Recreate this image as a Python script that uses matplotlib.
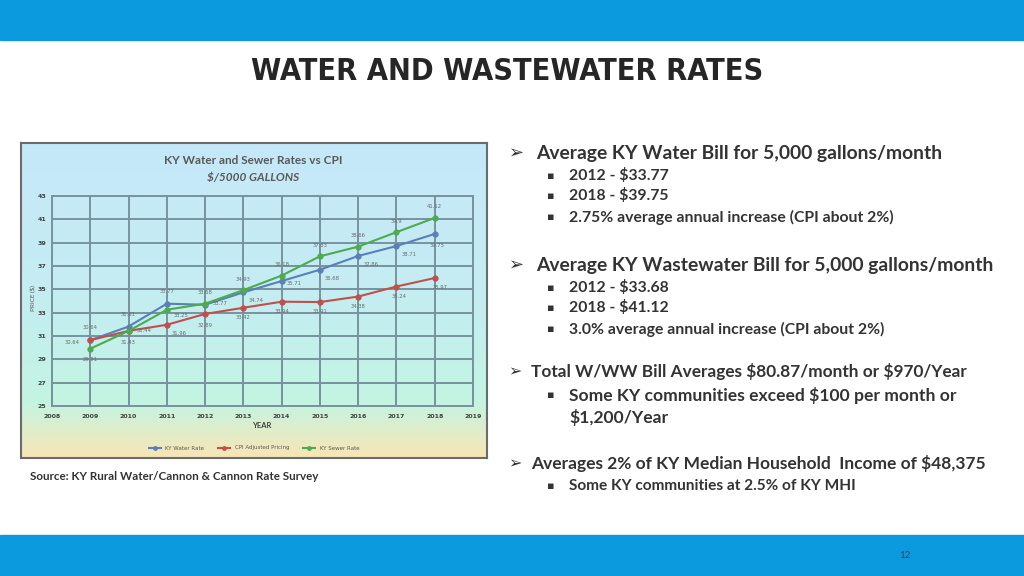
import numpy as np
import matplotlib
matplotlib.use("Agg")
from matplotlib import pyplot as plt
from matplotlib.colors import LinearSegmentedColormap
from matplotlib.patches import Rectangle

years = [2009, 2010, 2011, 2012, 2013, 2014, 2015, 2016, 2017, 2018]
water = [30.64, 31.81, 33.77, 33.68, 34.74, 35.71, 36.68, 37.86, 38.71, 39.75]
cpi = [30.64, 31.44, 31.96, 32.89, 33.42, 33.94, 33.91, 34.38, 35.24, 35.97]
sewer = [29.91, 31.43, 33.25, 33.77, 34.93, 36.18, 37.83, 38.66, 39.9, 41.12]
series_names = ['KY Water Rate', 'CPI Adjusted Pricing', 'KY Sewer Rate']
year_ticks = list(range(2008, 2020))
price_ticks = list(range(25, 44, 2))

W, H = 1024, 576
fig = plt.figure(figsize=(W / 100, H / 100), dpi=100)
fig.patch.set_facecolor('white')

def box(x0, y0, x1, y1):
    # pixel box (top-left origin) -> figure rect
    return [x0 / W, 1 - y1 / H, (x1 - x0) / W, (y1 - y0) / H]

def fx(x):
    return x / W

def fy(y):
    return 1 - y / H

# slide bars
fig.patches.append(Rectangle((0, fy(40)), 1, 40 / H, transform=fig.transFigure,
                             color='#0c9ade', zorder=0))
fig.patches.append(Rectangle((0, 0), 1, (H - 535) / H, transform=fig.transFigure,
                             color='#0c9ade', zorder=0))

body_font = ['Lato', 'DejaVu Sans']

fig.text(fx(507), fy(71), 'WATER AND WASTEWATER RATES', family=['DejaVu Sans'],
         fontstretch='condensed', fontsize=22, fontweight='bold', color='#262626',
         ha='center', va='center')

# chart picture background
bg = fig.add_axes(box(21, 143, 487, 458))
grad = LinearSegmentedColormap.from_list(
    'bg', [(0, '#c6e8fa'), (0.55, '#c4eef0'), (0.82, '#c3f5e2'), (1.0, '#f8e6b5')])
bg.imshow(np.linspace(0, 1, 256).reshape(-1, 1), cmap=grad, aspect='auto',
          extent=[0, 1, 0, 1], origin='upper')
bg.set_xlim(0, 1)
bg.set_ylim(0, 1)
bg.set_xticks([])
bg.set_yticks([])
for s in bg.spines.values():
    s.set_color('#6b6b6b')
    s.set_linewidth(1.5)

fig.text(fx(253), fy(160), 'KY Water and Sewer Rates vs CPI', family=body_font,
         fontsize=8.5, fontweight='bold', color='#595959', ha='center', va='center')
fig.text(fx(253), fy(178), '$/5000 GALLONS', family=body_font, fontsize=8.5,
         fontweight='bold', style='italic', color='#595959', ha='center', va='center')

ax = fig.add_axes(box(52, 196, 473, 406))
ax.set_facecolor('none')
ax.set_xlim(2008, 2019)
ax.set_ylim(25, 43)
ax.set_xticks(year_ticks)
ax.set_yticks(price_ticks)
ax.grid(True, color='#76939e', linewidth=1.4)
for s in ax.spines.values():
    s.set_color('#76939e')
    s.set_linewidth(1.4)
ax.tick_params(axis='x', length=0, labelsize=4.5, labelcolor='#404040', pad=6)
ax.tick_params(axis='y', length=0, labelsize=4.5, labelcolor='#404040', pad=4)
for lab in ax.get_xticklabels() + ax.get_yticklabels():
    lab.set_fontweight('bold')

colors = ['#5b7fb8', '#c0504d', '#4eab4e']
for vals, name, c in zip([water, cpi, sewer], series_names, colors):
    ax.plot(years, vals, color=c, linewidth=1.5, marker='o', markersize=3.5,
            label=name, zorder=3)

# data label offsets (points)
water_off = [(0, 9), (0, 9), (0, 9), (0, 9), (9, -6), (9, -2), (9, -6), (9, -6), (9, -6), (2, -8)]
cpi_off = [(-13, -2), (11, 0), (9, -6), (0, -8), (0, -7), (0, -7), (0, -7), (0, -7), (2, -7), (4, -7)]
sewer_off = [(0, -8), (0, -8), (10, -4), (11, 0), (0, 8), (0, 8), (0, 8), (0, 8), (0, 8), (0, 8)]
for vals, offs in [(water, water_off), (cpi, cpi_off), (sewer, sewer_off)]:
    for x, v, o in zip(years, vals, offs):
        ax.annotate(f'{v:g}', (x, v), xytext=o,
                    textcoords='offset points', fontsize=3.8, color='#6a6a6a',
                    ha='center', va='center')

fig.text(fx(262), fy(425), 'YEAR', family=body_font, fontsize=5.5,
         fontweight='bold', color='#404040', ha='center', va='center')
fig.text(fx(32), fy(298), 'PRICE ($)', family=body_font, fontsize=4.5,
         color='#595959', ha='center', va='center', rotation=90)

leg = ax.legend(loc='center', bbox_to_anchor=(0.48, -0.2), ncol=3, frameon=False,
                fontsize=4, handlelength=2.2, columnspacing=2.5, markerscale=0.7)
for t in leg.get_texts():
    t.set_color('#595959')

fig.text(fx(30), fy(476), 'Source: KY Rural Water/Cannon & Cannon Rate Survey',
         family=body_font, fontsize=8.4, fontweight='bold', color='#333333',
         va='center')

# right-hand bullet text
main = [
    (153, 'Average KY Water Bill for 5,000 gallons/month', 13.9, 536),
    (265, 'Average KY Wastewater Bill for 5,000 gallons/month', 13.9, 536),
    (372, 'Total W/WW Bill Averages $80.87/month or $970/Year', 12.4, 531),
    (464, 'Averages 2% of KY Median Household  Income of $48,375', 12.5, 531),
]
for y, txt, fs, x in main:
    fig.text(fx(508), fy(y), '\u27a2', family=['DejaVu Sans'], fontsize=fs - 1,
             color='#333333', va='center')
    fig.text(fx(x), fy(y), txt.replace('$', r'\$'), family=body_font, fontsize=fs,
             fontweight='bold', color='#333333', va='center')

subs = [
    (176, '2012 - $33.77', 11.3),
    (196, '2018 - $39.75', 11.3),
    (217, '2.75% average annual increase (CPI about 2%)', 11.3),
    (288, '2012 - $33.68', 11.3),
    (308, '2018 - $41.12', 11.3),
    (329, '3.0% average annual increase (CPI about 2%)', 11.3),
    (395, 'Some KY communities exceed $100 per month or', 12.6),
    (486, 'Some KY communities at 2.5% of KY MHI', 11.1),
]
for y, txt, fs in subs:
    fig.text(fx(547), fy(y), '\u25aa', family=['DejaVu Sans'], fontsize=8,
             color='#333333', va='center')
    fig.text(fx(569), fy(y), txt.replace('$', r'\$'), family=body_font, fontsize=fs,
             fontweight='bold', color='#333333', va='center')
fig.text(fx(569), fy(418), r'\$1,200/Year', family=body_font, fontsize=12.6,
         fontweight='bold', color='#333333', va='center')

fig.text(fx(905), fy(556), '12', family=body_font, fontsize=7, color='#2a4a5a',
         ha='center', va='center')

plt.savefig('out.png', dpi=100)
